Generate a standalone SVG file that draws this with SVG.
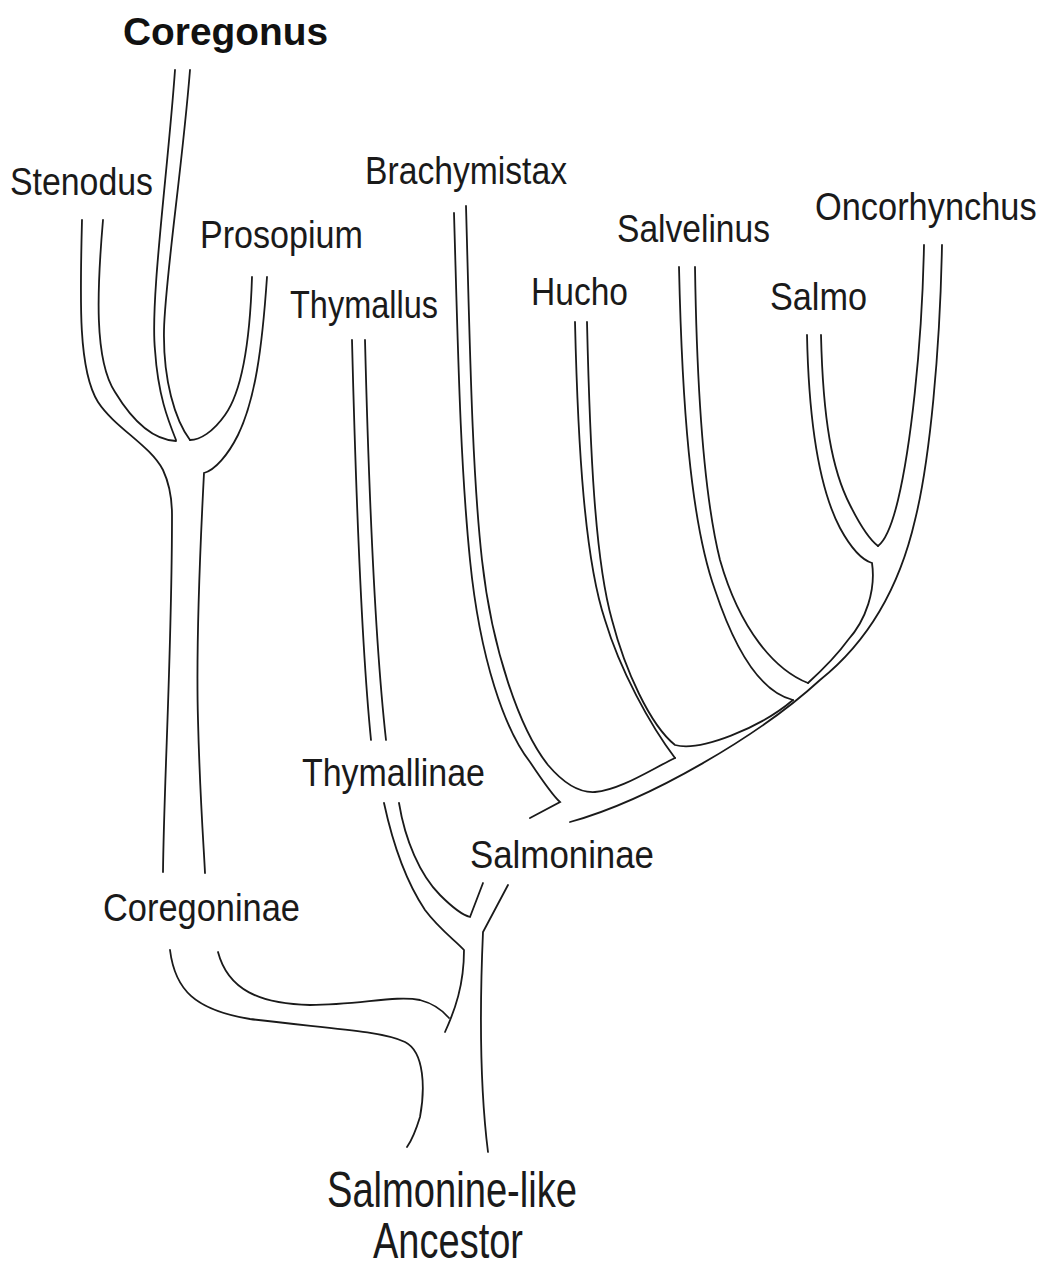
<svg xmlns="http://www.w3.org/2000/svg" width="1051" height="1270" viewBox="0 0 1051 1270">
<style>
.br{fill:none;stroke:#1a1a1a;stroke-width:1.8;stroke-linecap:round;stroke-linejoin:miter}
.lb{font-family:"Liberation Sans",Arial,sans-serif;font-size:38px;fill:#1a1a1a}
.big{font-family:"Liberation Sans",Arial,sans-serif;font-size:50px;fill:#1a1a1a}
.ttl{font-family:"Liberation Sans",Arial,sans-serif;font-size:39px;font-weight:bold;fill:#111}
</style>
<rect width="1051" height="1270" fill="#fff"/>
<g id="connectors">
<path class="br" d="M175,70 C168,170 150,300 155,350 C158,395 168,420 176,440"/>
<path class="br" d="M190,70 C182,170 165,280 164,330 C163,380 175,420 190,440"/>
<path class="br" d="M82,220 C80,300 78,370 98,402 C115,428 150,445 163,470 C170,485 172,500 172,515 C172,650 164,780 163,872"/>
<path class="br" d="M103,220 C97,290 94,360 115,392 C135,425 155,440 176,441"/>
<path class="br" d="M252,277 C250,340 243,390 225,415 C213,432 200,440 190,440"/>
<path class="br" d="M267,277 C262,350 255,400 238,435 C228,455 215,470 204,473 C200,550 196,650 198,720 C200,800 204,850 205,873"/>
<path class="br" d="M352,340 C356,500 362,650 371,740"/>
<path class="br" d="M365,340 C369,500 376,650 386,740"/>
<path class="br" d="M384,803 C392,840 405,880 425,910 C440,930 455,940 464,950 C464,985 455,1010 445,1032"/>
<path class="br" d="M399,803 C405,840 420,875 440,895 C452,907 462,915 470,917 L483,883"/>
<path class="br" d="M508,885 L483,932 C480,1000 479,1080 488,1152"/>
<path class="br" d="M170,950 C175,990 195,1010 250,1019 C320,1028 380,1030 405,1042 C425,1052 425,1090 420,1117 C416,1130 412,1140 407,1147"/>
<path class="br" d="M218,952 C228,990 260,1004 310,1005 C360,1005 395,995 420,1000 C435,1004 444,1012 449,1018"/>
<path class="br" d="M454,213 C458,350 460,460 470,560 C480,660 505,730 530,762 C542,780 552,795 560,802 L530,818"/>
<path class="br" d="M466,206 C470,350 472,470 482,560 C492,650 520,730 548,765 C565,785 580,793 595,792 C620,790 650,770 675,758"/>
<path class="br" d="M575,322 C578,450 585,560 605,620 C620,670 650,725 675,758"/>
<path class="br" d="M587,322 C590,450 595,560 612,620 C625,670 650,725 675,745 C700,752 760,728 793,700"/>
<path class="br" d="M679,267 C682,400 690,520 715,590 C735,650 760,692 793,700"/>
<path class="br" d="M695,267 C697,400 705,500 720,560 C740,630 775,670 808,683"/>
<path class="br" d="M807,335 C809,430 820,490 840,528 C852,550 862,560 872,563 C876,590 866,620 848,640 C835,658 820,672 808,683"/>
<path class="br" d="M821,335 C823,420 832,470 850,505 C860,525 870,540 878,546"/>
<path class="br" d="M924,245 C922,350 910,450 898,500 C892,525 886,540 878,546"/>
<path class="br" d="M942,245 C940,350 930,460 915,520 C900,585 870,640 820,680 C760,735 650,800 570,822"/>
</g>
<g id="coregonus"><text class="ttl" x="123" y="45" textLength="205" lengthAdjust="spacingAndGlyphs">Coregonus</text></g>
<g id="stenodus"><text class="lb" x="10" y="195" textLength="143" lengthAdjust="spacingAndGlyphs">Stenodus</text></g>
<g id="prosopium"><text class="lb" x="200" y="248" textLength="163" lengthAdjust="spacingAndGlyphs">Prosopium</text></g>
<g id="brachymistax"><text class="lb" x="365" y="184" textLength="202" lengthAdjust="spacingAndGlyphs">Brachymistax</text></g>
<g id="thymallus"><text class="lb" x="290" y="318" textLength="148" lengthAdjust="spacingAndGlyphs">Thymallus</text></g>
<g id="hucho"><text class="lb" x="531" y="305" textLength="97" lengthAdjust="spacingAndGlyphs">Hucho</text></g>
<g id="salvelinus"><text class="lb" x="617" y="242" textLength="153" lengthAdjust="spacingAndGlyphs">Salvelinus</text></g>
<g id="oncorhynchus"><text class="lb" transform="translate(815,220) scale(0.905,1)" x="0" y="0">Oncorhynchus</text></g>
<g id="salmo"><text class="lb" x="770" y="310" textLength="97" lengthAdjust="spacingAndGlyphs">Salmo</text></g>
<g id="thymallinae"><text class="lb" x="302" y="786" textLength="183" lengthAdjust="spacingAndGlyphs">Thymallinae</text></g>
<g id="salmoninae"><text class="lb" x="470" y="868" textLength="184" lengthAdjust="spacingAndGlyphs">Salmoninae</text></g>
<g id="coregoninae"><text class="lb" x="103" y="921" textLength="197" lengthAdjust="spacingAndGlyphs">Coregoninae</text></g>
<g id="ancestor">
<text class="big" x="327" y="1207" textLength="250" lengthAdjust="spacingAndGlyphs">Salmonine-like</text>
<text class="big" x="373" y="1258" textLength="150" lengthAdjust="spacingAndGlyphs">Ancestor</text>
</g>
</svg>
